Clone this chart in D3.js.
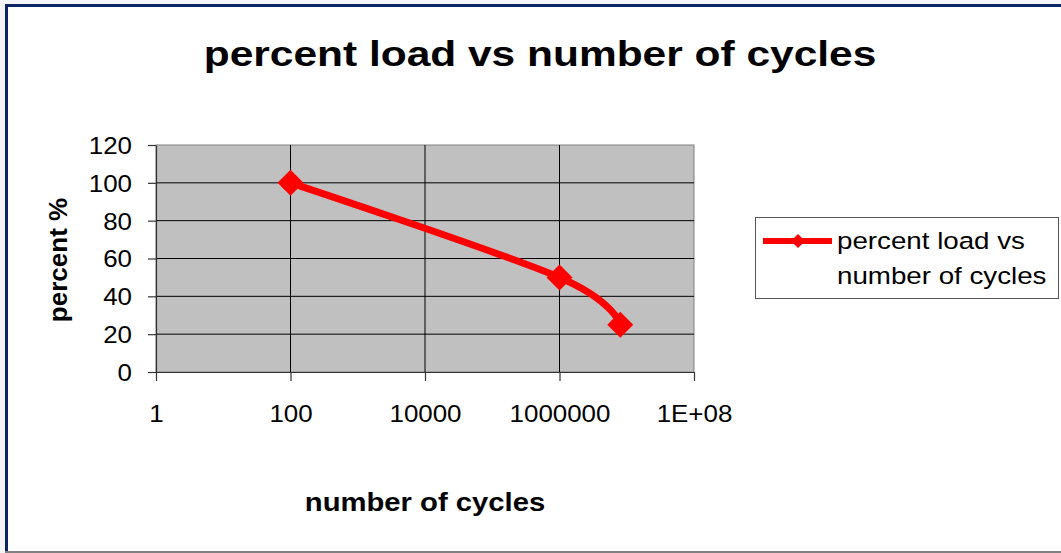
<!DOCTYPE html>
<html>
<head>
<meta charset="utf-8">
<script src="https://cdn.jsdelivr.net/npm/d3@7"></script>
<style>
  body { margin: 0; background: #f3f5f9; }
  text { font-family: "Liberation Sans", Arial, sans-serif; }
</style>
</head>
<body>
<div id="chart"></div>
<script>
// data
var cycles = [100, 1000000, 8000000]
var percent = [100, 50, 25]
var xTicks = [1, 100, 10000, 1000000, 100000000]
var xTickLabels = ["1", "100", "10000", "1000000", "1E+08"]
var yTicks = [0, 20, 40, 60, 80, 100, 120]
var seriesName = ["percent load vs", "number of cycles"]

var W = 1061, H = 553
var plot = { left: 156, right: 694, top: 145, bottom: 372 }

var svg = d3.select("#chart").append("svg")
    .attr("width", W)
    .attr("height", H)

// slide frame
svg.append("rect").attr("x", 8).attr("y", 7).attr("width", W - 8).attr("height", 544).attr("fill", "#fff")
svg.append("rect").attr("x", 5).attr("y", 4).attr("width", W - 5).attr("height", 3).attr("fill", "#0d2466")
svg.append("rect").attr("x", 5).attr("y", 4).attr("width", 3).attr("height", 548).attr("fill", "#0d2466")
svg.append("rect").attr("x", 5).attr("y", 551).attr("width", W - 5).attr("height", 2).attr("fill", "#808080")

function stretchText(sel, x, y, sx) {
    sel.attr("transform", "translate(" + x + "," + y + ") scale(" + sx + ",1)")
}

// title
svg.append("text")
    .attr("text-anchor", "middle")
    .style("font-size", "36px")
    .style("font-weight", "bold")
    .text("percent load vs number of cycles")
    .call(stretchText, 540, 66, 1.18)

var x = d3.scaleLog().domain([1, 1e8]).range([plot.left, plot.right])
var y = d3.scaleLinear().domain([0, 120]).range([plot.bottom, plot.top])

// plot area
svg.append("rect")
    .attr("x", plot.left).attr("y", plot.top)
    .attr("width", plot.right - plot.left).attr("height", plot.bottom - plot.top)
    .attr("fill", "#c0c0c0")
    .attr("stroke", "#808080")

// grid lines
svg.selectAll(".hgrid").data(yTicks.slice(1, -1))
    .enter().append("line")
    .attr("x1", plot.left).attr("x2", plot.right)
    .attr("y1", d => y(d)).attr("y2", d => y(d))
    .attr("stroke", "#000").attr("stroke-width", 1)

svg.selectAll(".vgrid").data(xTicks.slice(1, -1))
    .enter().append("line")
    .attr("y1", plot.top).attr("y2", plot.bottom)
    .attr("x1", d => x(d)).attr("x2", d => x(d))
    .attr("stroke", "#000").attr("stroke-width", 1)

// axes
var xAxis = svg.append("g")
    .attr("transform", "translate(0," + plot.bottom + ")")
    .call(d3.axisBottom(x).tickValues(xTicks).tickFormat((d, i) => "").tickSize(9).tickSizeOuter(0))
var yAxis = svg.append("g")
    .attr("transform", "translate(" + plot.left + ",0)")
    .call(d3.axisLeft(y).tickValues(yTicks).tickFormat(d => "").tickSize(8).tickSizeOuter(0))
svg.selectAll(".domain, .tick line").attr("stroke", "#333").attr("stroke-width", 1.2)

xAxis.selectAll(".tick").append("text")
    .attr("fill", "#000")
    .attr("text-anchor", "middle")
    .style("font-size", "24px")
    .text((d, i) => xTickLabels[i])
    .call(stretchText, 0, 50, 1.08)

yAxis.selectAll(".tick").append("text")
    .attr("fill", "#000")
    .attr("text-anchor", "end")
    .attr("dy", "0.35em")
    .style("font-size", "24px")
    .text(d => d)
    .call(stretchText, -24, 0, 1.08)

// axis titles
svg.append("text")
    .attr("text-anchor", "middle")
    .style("font-size", "25px")
    .style("font-weight", "bold")
    .text("number of cycles")
    .call(stretchText, (plot.left + plot.right) / 2, 511, 1.17)

svg.append("text")
    .attr("text-anchor", "middle")
    .attr("transform", "translate(67,260) rotate(-90)")
    .style("font-size", "26px")
    .style("font-weight", "bold")
    .text("percent %")

// series
var points = cycles.map((c, i) => [c, percent[i]])
var line = d3.line()
    .x(d => x(d[0]))
    .y(d => y(d[1]))
    .curve(d3.curveCardinal.tension(0))

svg.append("path")
    .datum(points)
    .attr("d", line)
    .attr("fill", "none")
    .attr("stroke", "#ff0000")
    .attr("stroke-width", 7)
    .attr("stroke-linejoin", "round")

var diamond = d3.symbol().type(d3.symbolSquare).size(338)
svg.selectAll(".marker").data(points)
    .enter().append("path")
    .attr("d", diamond)
    .attr("transform", d => "translate(" + x(d[0]) + "," + y(d[1]) + ") rotate(45)")
    .attr("fill", "#ff0000")

// legend
var lg = svg.append("g")
lg.append("rect")
    .attr("x", 755.5).attr("y", 217.5).attr("width", 303).attr("height", 81)
    .attr("fill", "#fff").attr("stroke", "#555")
lg.append("line")
    .attr("x1", 763).attr("x2", 832).attr("y1", 241).attr("y2", 241)
    .attr("stroke", "#ff0000").attr("stroke-width", 6)
lg.append("path")
    .attr("d", d3.symbol().type(d3.symbolSquare).size(100))
    .attr("transform", "translate(798,241) rotate(45)")
    .attr("fill", "#ff0000")
lg.selectAll(".lt").data(seriesName)
    .enter().append("text")
    .style("font-size", "23.5px")
    .text(d => d)
    .each(function(d, i) { d3.select(this).call(stretchText, 837, 249 + i * 35, 1.18) })
</script>
</body>
</html>
